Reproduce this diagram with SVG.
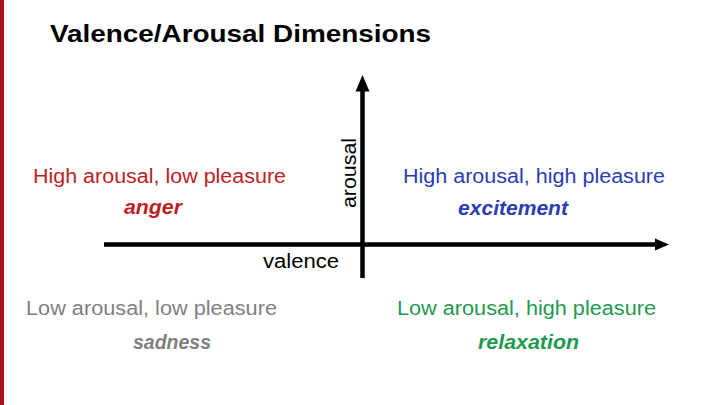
<svg xmlns="http://www.w3.org/2000/svg" width="720" height="405" viewBox="0 0 720 405">
  <style>
    text { font-family: "Liberation Sans", Arial, sans-serif; }
    .title { font-size: 23px; font-weight: bold; fill: #000; }
    .lbl { font-size: 20px; }
    .emo { font-size: 20px; font-weight: bold; font-style: italic; }
    .axis { font-size: 20px; fill: #000; }
    .red { fill: #BE1E23; }
    .blue { fill: #2A3CB4; }
    .gray { fill: #7F7F7F; }
    .green { fill: #1E9A50; }
    .ax { stroke: #000; stroke-width: 4.5; fill: none; }
  </style>
  <rect x="0" y="0" width="720" height="405" fill="#fff"/>
  <rect x="0" y="0" width="4" height="405" fill="#A8101E"/>
  <g id="title">
    <text class="title" x="50" y="42" textLength="381" lengthAdjust="spacingAndGlyphs">Valence/Arousal Dimensions</text>
  </g>
  <g id="connectors">
    <line class="ax" x1="104" y1="244.5" x2="655" y2="244.5"/>
    <path d="M655,238.5 L669,244.5 L655,250.5 Z" fill="#000"/>
    <line class="ax" x1="362.5" y1="278" x2="362.5" y2="91"/>
    <path d="M355.5,91.5 L362.5,75 L369.5,91.5 Z" fill="#000"/>
  </g>
  <g id="axis-labels">
    <text class="axis" x="263" y="268" textLength="76" lengthAdjust="spacingAndGlyphs">valence</text>
    <text class="axis" transform="translate(356,208) rotate(-90)" x="0" y="0" textLength="70" lengthAdjust="spacingAndGlyphs">arousal</text>
  </g>
  <g id="q-high-low">
    <text class="lbl red" x="33" y="182.5" textLength="253" lengthAdjust="spacingAndGlyphs">High arousal, low pleasure</text>
    <text class="emo red" x="124" y="214" textLength="58" lengthAdjust="spacingAndGlyphs">anger</text>
  </g>
  <g id="q-high-high">
    <text class="lbl blue" x="403" y="182.5" textLength="262" lengthAdjust="spacingAndGlyphs">High arousal, high pleasure</text>
    <text class="emo blue" x="458" y="215" textLength="110" lengthAdjust="spacingAndGlyphs">excitement</text>
  </g>
  <g id="q-low-low">
    <text class="lbl gray" x="26" y="314.5" textLength="251" lengthAdjust="spacingAndGlyphs">Low arousal, low pleasure</text>
    <text class="emo gray" x="133" y="349" textLength="78" lengthAdjust="spacingAndGlyphs">sadness</text>
  </g>
  <g id="q-low-high">
    <text class="lbl green" x="397" y="314.5" textLength="259" lengthAdjust="spacingAndGlyphs">Low arousal, high pleasure</text>
    <text class="emo green" x="478" y="349" textLength="101" lengthAdjust="spacingAndGlyphs">relaxation</text>
  </g>
</svg>
